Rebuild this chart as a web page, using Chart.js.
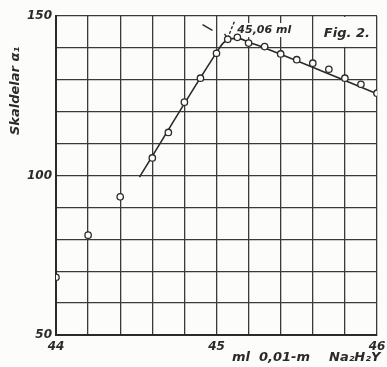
<!DOCTYPE html>
<html>
<head>
<meta charset="utf-8">
<script src="https://cdn.jsdelivr.net/npm/chart.js@4/dist/chart.umd.min.js"></script>
<style>
html,body{margin:0;padding:0;background:#fcfcfa;}
#wrap{width:387px;height:367px;position:relative;}
</style>
</head>
<body>
<div id="wrap"><canvas id="c" width="387" height="367"></canvas></div>
<script>
// measured points
const pointX = [44.0, 44.2, 44.4, 44.6, 44.7, 44.8, 44.9, 45.0, 45.07, 45.13, 45.2, 45.3, 45.4, 45.5, 45.6, 45.7, 45.8, 45.9, 46.0];
const pointY = [68.1, 81.3, 93.3, 105.5, 113.5, 123.0, 130.5, 138.3, 142.7, 143.3, 141.5, 140.4, 138.1, 136.3, 135.2, 133.3, 130.5, 128.6, 125.8];
// fitted curve
const curveX = [44.52, 45.0, 45.04, 45.09, 45.14, 45.2, 45.3, 46.0];
const curveY = [99.5, 138.5, 141.4, 142.9, 142.9, 141.8, 140.0, 125.6];
// end-point marks
const tickX = [44.9125, 44.975];
const tickY = [147.3, 145.5];
const armX = [45.05, 45.069];
const armY = [144.4, 143.0];
const arrowX = [45.069, 45.1125];
const arrowY = [143.0, 148.4];
// axis labels
const xTickLabels = [44, 45, 46];
const yTickLabels = [50, 100, 150];
const endLabel = '45,06 ml';
const figLabel = 'Fig. 2.';
const yTitle = 'Skaldelar α₁';
const xTitleParts = ['ml', '0,01-m', 'Na₂H₂Y'];

const toXY = (xs, ys) => xs.map((x, i) => ({x: x, y: ys[i]}));
const INK = '#2a2a2a';

const bgPlugin = {
  id: 'bg',
  beforeDraw(chart) {
    const ctx = chart.ctx;
    ctx.save();
    ctx.fillStyle = '#fcfcfa';
    ctx.fillRect(0, 0, chart.width, chart.height);
    ctx.restore();
  }
};

const textPlugin = {
  id: 'texts',
  beforeDatasetsDraw(chart) {
    const ctx = chart.ctx, xs = chart.scales.x, ys = chart.scales.y;
    ctx.save();
    const x0 = xs.getPixelForValue(45.6), x1 = xs.getPixelForValue(46);
    const y0 = ys.getPixelForValue(150), y1 = ys.getPixelForValue(140);
    ctx.fillStyle = '#fcfcfa';
    ctx.fillRect(x0 + 1, y0 + 1, x1 - x0 - 2, y1 - y0 - 2);
    ctx.font = 'italic bold 11px "DejaVu Sans"';
    const lx = xs.getPixelForValue(45.13), ly = ys.getPixelForValue(145.6);
    const w = ctx.measureText(endLabel).width;
    ctx.fillRect(lx - 1, ly - 7, w + 2, 14);
    ctx.restore();
  },
  afterDraw(chart) {
    const ctx = chart.ctx, xs = chart.scales.x, ys = chart.scales.y;
    ctx.save();
    ctx.fillStyle = INK;
    ctx.textBaseline = 'middle';
    ctx.font = 'italic bold 11px "DejaVu Sans"';
    ctx.textAlign = 'left';
    ctx.fillText(endLabel, xs.getPixelForValue(45.13), ys.getPixelForValue(145.6));
    ctx.font = 'italic bold 13px "DejaVu Sans"';
    ctx.textAlign = 'center';
    ctx.fillText(figLabel, (xs.getPixelForValue(45.6) + xs.getPixelForValue(46)) / 2 + 2, ys.getPixelForValue(144.6));
    // y title
    ctx.save();
    ctx.translate(16, 91);
    ctx.rotate(-Math.PI / 2);
    ctx.font = 'italic bold 13px "DejaVu Sans"';
    ctx.textAlign = 'center';
    ctx.fillText(yTitle, 0, 0);
    ctx.restore();
    // x title
    ctx.font = 'italic bold 13px "DejaVu Sans"';
    ctx.textAlign = 'left';
    ctx.fillText(xTitleParts[0], 232, 358);
    ctx.fillText(xTitleParts[1], 259, 358);
    ctx.fillText(xTitleParts[2], 329, 358);
    ctx.restore();
  }
};

new Chart(document.getElementById('c'), {
  type: 'scatter',
  data: {
    datasets: [
      {
        data: toXY(curveX, curveY),
        showLine: true,
        borderColor: INK,
        borderWidth: 1.6,
        pointRadius: 0,
        cubicInterpolationMode: 'monotone',
        order: 2
      },
      {
        data: toXY(pointX, pointY),
        showLine: false,
        pointRadius: 3.2,
        pointBackgroundColor: '#fcfcfa',
        pointBorderColor: INK,
        pointBorderWidth: 1.3,
        order: 1
      },
      {
        data: toXY(tickX, tickY),
        showLine: true,
        borderColor: INK,
        borderWidth: 1.4,
        pointRadius: 0,
        order: 3
      },
      {
        data: toXY(armX, armY),
        showLine: true,
        borderColor: INK,
        borderWidth: 1.4,
        pointRadius: 0,
        order: 3
      },
      {
        data: toXY(arrowX, arrowY),
        showLine: true,
        borderColor: INK,
        borderWidth: 1.4,
        borderDash: [3, 2],
        pointRadius: 0,
        order: 3
      }
    ]
  },
  options: {
    responsive: false,
    animation: false,
    events: [],
    layout: { padding: { top: 16, right: 10, left: 0, bottom: 0 } },
    plugins: { legend: { display: false }, tooltip: { enabled: false } },
    scales: {
      x: {
        type: 'linear',
        min: 44, max: 46,
        afterBuildTicks(scale) {
          const t = [];
          for (let i = 0; i <= 10; i++) t.push({ value: 44 + i * 0.2 });
          scale.ticks = t;
        },
        afterFit(scale) { scale.height = 32; scale.paddingRight = 0; scale.paddingLeft = 0; },
        grid: { color: '#3a3a3a', lineWidth: 1.3, drawTicks: false },
        border: { color: INK, width: 2 },
        ticks: {
          padding: 5,
          maxRotation: 0,
          autoSkip: false,
          color: INK,
          font: { family: 'DejaVu Sans', size: 12, style: 'italic', weight: 'bold' },
          callback(v) {
            const r = Math.round(v);
            return (Math.abs(v - r) < 1e-6 && xTickLabels.includes(r)) ? String(r) : '';
          }
        }
      },
      y: {
        type: 'linear',
        min: 50, max: 150,
        ticks: {
          stepSize: 10,
          padding: 4,
          color: INK,
          font: { family: 'DejaVu Sans', size: 12, style: 'italic', weight: 'bold' },
          callback(v) { return yTickLabels.includes(Math.round(v)) && Math.abs(v - Math.round(v)) < 1e-6 ? String(Math.round(v)) : ''; }
        },
        afterFit(scale) { scale.width = 56; },
        grid: { color: '#3a3a3a', lineWidth: 1.3, drawTicks: false },
        border: { color: INK, width: 2 }
      }
    }
  },
  plugins: [bgPlugin, textPlugin]
});
</script>
</body>
</html>
